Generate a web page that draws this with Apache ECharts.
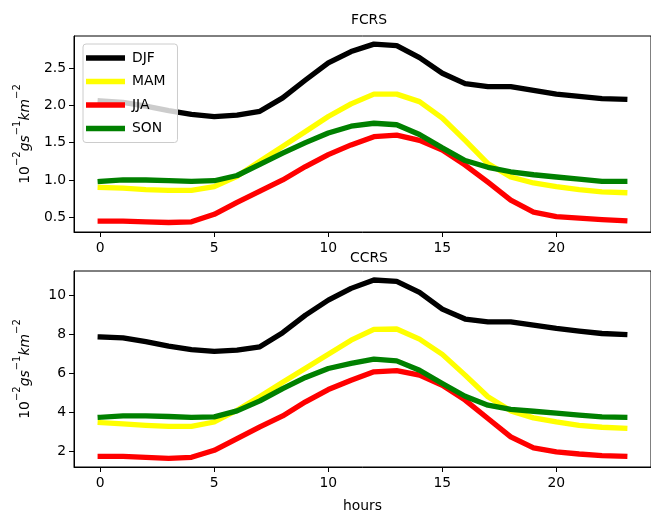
<!DOCTYPE html>
<html>
<head>
<meta charset="utf-8">
<script src="https://cdn.jsdelivr.net/npm/echarts@6/dist/echarts.min.js"></script>
<style>html,body{margin:0;padding:0;background:#fff}#c{width:651px;height:515px}</style>
</head>
<body>
<div id="c"></div>
<script>
const hours = [0,1,2,3,4,5,6,7,8,9,10,11,12,13,14,15,16,17,18,19,20,21,22,23];
const seasons = ['DJF','MAM','JJA','SON'];
const seasonColors = ['#000000','#ffff00','#ff0000','#008000'];

const fcrsDJF = [2.06,2.04,1.99,1.93,1.88,1.85,1.87,1.92,2.10,2.34,2.57,2.72,2.82,2.80,2.64,2.43,2.29,2.25,2.25,2.20,2.15,2.12,2.09,2.08];
const fcrsMAM = [0.90,0.89,0.87,0.86,0.86,0.91,1.05,1.25,1.45,1.65,1.85,2.02,2.15,2.15,2.05,1.83,1.53,1.22,1.04,0.96,0.91,0.87,0.84,0.83];
const fcrsJJA = [0.45,0.45,0.44,0.43,0.44,0.54,0.70,0.85,1.00,1.18,1.34,1.47,1.58,1.60,1.53,1.40,1.20,0.97,0.73,0.57,0.51,0.49,0.47,0.455];
const fcrsSON = [0.98,1.00,1.00,0.99,0.98,0.99,1.06,1.21,1.36,1.50,1.63,1.72,1.76,1.74,1.61,1.43,1.26,1.17,1.11,1.07,1.04,1.01,0.98,0.98];

const ccrsDJF = [7.85,7.81,7.61,7.38,7.21,7.11,7.18,7.35,8.07,8.97,9.74,10.34,10.77,10.70,10.14,9.28,8.77,8.63,8.63,8.46,8.29,8.15,8.03,7.98];
const ccrsMAM = [3.47,3.40,3.33,3.27,3.27,3.50,4.10,4.81,5.53,6.25,6.97,7.69,8.24,8.26,7.74,6.96,5.90,4.79,4.07,3.71,3.50,3.33,3.23,3.18];
const ccrsJJA = [1.74,1.74,1.69,1.64,1.69,2.05,2.65,3.25,3.81,4.53,5.16,5.64,6.07,6.13,5.90,5.38,4.62,3.68,2.74,2.17,1.97,1.86,1.78,1.74];
const ccrsSON = [3.74,3.81,3.81,3.78,3.74,3.76,4.07,4.58,5.21,5.78,6.24,6.50,6.72,6.63,6.15,5.47,4.82,4.36,4.15,4.05,3.95,3.85,3.76,3.74];

const xTicks = [0,5,10,15,20];
const fcrsTicks = [0.5,1.0,1.5,2.0,2.5];
const ccrsTicks = [2,4,6,8,10];
const titles = ['FCRS','CCRS'];
const xLabel = 'hours';

const font = 'DejaVu Sans';
const fcrs = [fcrsDJF,fcrsMAM,fcrsJJA,fcrsSON];
const ccrs = [ccrsDJF,ccrsMAM,ccrsJJA,ccrsSON];

function xAxis(gridIndex, name) {
  return {
    type: 'value', gridIndex, min: -1.15, max: 24.15,
    name: name || '', nameLocation: 'middle', nameGap: 32,
    nameTextStyle: {fontFamily: font, fontSize: 13.9, color: '#000'},
    axisLine: {show: true, onZero: false, lineStyle: {color: '#000', width: 1}},
    axisTick: {show: true, length: 5, inside: false, customValues: xTicks, lineStyle: {color: '#000'}},
    axisLabel: {show: true, margin: 9, customValues: xTicks, fontFamily: font, fontSize: 13.9, color: '#000'},
    splitLine: {show: false}
  };
}
const yName = '{n|10}{s|−2}{i|gs}{s|−1}{i|km}{s|−2}';
const yRich = {
  n: {fontFamily: font, fontSize: 13.9, color: '#000', verticalAlign: 'bottom', lineHeight: 20},
  i: {fontFamily: font, fontStyle: 'italic', fontSize: 13.9, color: '#000', verticalAlign: 'bottom', lineHeight: 20},
  s: {fontFamily: font, fontSize: 10, color: '#000', verticalAlign: 'top', lineHeight: 12}
};
function yAxis(gridIndex, min, max, ticks, dec) {
  return {
    type: 'value', gridIndex, min, max,
    name: yName, nameLocation: 'middle', nameGap: 42, nameRotate: 90,
    nameTextStyle: {rich: yRich},
    axisLine: {show: true, onZero: false, lineStyle: {color: '#000', width: 1}},
    axisTick: {show: true, length: 5, customValues: ticks, lineStyle: {color: '#000'}},
    axisLabel: {show: true, margin: 8, customValues: ticks, fontFamily: font, fontSize: 13.9, color: '#000',
      formatter: v => v.toFixed(dec)},
    splitLine: {show: false}
  };
}

const series = [];
[fcrs, ccrs].forEach((set, gi) => {
  set.forEach((vals, si) => {
    series.push({
      name: seasons[si], type: 'line', xAxisIndex: gi, yAxisIndex: gi,
      data: hours.map((h, k) => [h, vals[k]]),
      showSymbol: false, symbol: 'none', smooth: false,
      lineStyle: {color: seasonColors[si], width: 5.3, cap: 'square', join: 'round'},
      itemStyle: {color: seasonColors[si]},
      emphasis: {disabled: true}
    });
  });
});

const chart = echarts.init(document.getElementById('c'), null, {renderer: 'canvas'});
chart.setOption({
  animation: false,
  backgroundColor: '#fff',
  title: [
    {text: titles[0], left: 364, top: 8, textAlign: 'center', textStyle: {fontFamily: font, fontSize: 13.9, fontWeight: 'normal', color: '#000'}},
    {text: titles[1], left: 364, top: 246, textAlign: 'center', textStyle: {fontFamily: font, fontSize: 13.9, fontWeight: 'normal', color: '#000'}}
  ],
  grid: [
    {left: 74, top: 36, width: 580, height: 196, show: true, borderColor: '#000', borderWidth: 1, backgroundColor: 'transparent', containLabel: false},
    {left: 74, top: 271, width: 580, height: 196, show: true, borderColor: '#000', borderWidth: 1, backgroundColor: 'transparent', containLabel: false}
  ],
  xAxis: [xAxis(0), xAxis(1, xLabel)],
  yAxis: [yAxis(0, 0.303, 2.929, fcrsTicks, 1), yAxis(1, 1.195, 11.23, ccrsTicks, 0)],
  legend: {
    data: seasons, orient: 'vertical', left: 83, top: 44,
    icon: 'rect', itemWidth: 39, itemHeight: 5.3, itemGap: 9.5,
    padding: [7, 12, 7, 3],
    backgroundColor: 'rgba(255,255,255,0.8)', borderColor: '#cccccc', borderWidth: 1, borderRadius: 3,
    textStyle: {fontFamily: font, fontSize: 13.9, color: '#000', padding: [0,0,0,2]},
    selectedMode: false
  },
  series
});
</script>
</body>
</html>
